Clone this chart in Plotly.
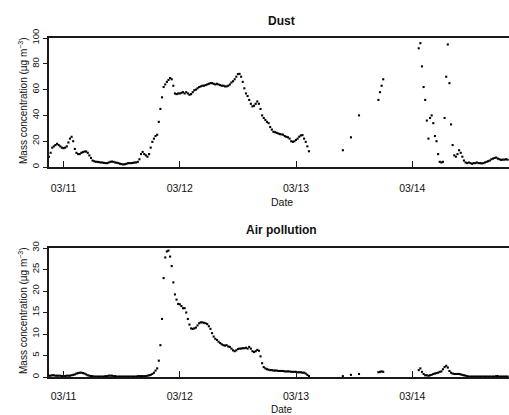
import pandas as pd
import plotly.graph_objects as go

N = None
START = "2014-03-10 21:00"
STEP = "20min"

# Dust mass concentration (ug m-3), one value every 20 minutes from 03/10 21:00
dust = [
    8, 11, 15, 16, 17, 18, 17, 16, 15, 14.6, 15, 16,
    19, 22, 23.4, 20, 14, 11, 10, 10, 11, 11.5, 12, 12,
    11, 9, 7, 5, 4.5, 4, 4, 3.8, 3.5, 3.5, 3.2, 3,
    3, 3.5, 4, 4.2, 4, 3.5, 3.3, 3, 2.5, 2.2, 2, 2.2,
    2.5, 3, 3, 3, 3.2, 3.5, 3.5, 4, 6, 10, 11.7, 10,
    9, 8, 10, 15, 19.5, 22, 24, 25, 35, 45, 54, 62,
    64, 66, 67.5, 69, 68, 63, 57, 56.5, 57, 57, 57.5, 58,
    57, 58, 57, 56, 56.5, 58, 59.5, 60, 61, 62, 62.5, 63,
    63, 63.5, 64, 64.5, 65, 65, 64.5, 64, 64.5, 64, 63.5, 63,
    63, 62.5, 62.5, 63, 64, 65.5, 66.5, 68, 70, 72, 72.2, 70,
    66, 61, 57, 55, 52, 49, 47, 47.5, 49, 50.8, 49, 45,
    40, 38, 36.5, 35, 34, 31, 29, 27.3, 27, 26.5, 26, 25.5,
    25.3, 25, 24, 23.4, 23, 22, 20, 19.5, 20, 21, 22, 23.5,
    24.5, 24.7, 22, 19.5, 16, 12.2, N, N, N, N, N, N,
    N, N, N, N, N, N, N, N, N, N, N, N,
    N, N, 13, N, N, N, N, 23, N, N, N, N,
    40, N, N, N, N, N, N, N, N, N, N, N,
    52, 58, 63, 68, N, N, N, N, N, N, N, N,
    N, N, N, N, N, N, N, N, N, N, N, N,
    N, 92, 96, 78, 62, 52, 36, 22, 38, 40, 34, 24,
    20, 10, 4, 3.5, 4, 38, 70, 95, 65, 33, 17, 9,
    8, 10, 13, 11, 8, 5, 3.5, 3, 3.5, 3, 2.5, 3,
    3, 3.5, 3, 3, 2.8, 3, 3.5, 4, 4.5, 5, 6, 6.5,
    7, 7.3, 6.5, 6, 5.5, 5.7, 5.7, 6, 5.7,
]

# Air pollution mass concentration (ug m-3), same time steps
air = [
    0.3, 0.3, 0.4, 0.4, 0.3, 0.3, 0.3, 0.3, 0.2, 0.2, 0.2, 0.3,
    0.3, 0.3, 0.4, 0.5, 0.6, 0.8, 0.9, 1.0, 1.0, 0.9, 0.8, 0.6,
    0.4, 0.3, 0.2, 0.2, 0.1, 0.1, 0.1, 0.1, 0.1, 0.1, 0.1, 0.2,
    0.2, 0.3, 0.3, 0.3, 0.2, 0.2, 0.1, 0.1, 0.1, 0.1, 0.1, 0.1,
    0.1, 0.1, 0.1, 0.1, 0.1, 0.1, 0.1, 0.2, 0.2, 0.2, 0.2, 0.2,
    0.2, 0.3, 0.4, 0.5, 0.7, 1.0, 1.5, 2.0, 3.8, 7.4, 13.5, 23,
    27.8, 29.2, 29.4, 28, 25.8, 22, 19.2, 18, 17, 16.9, 16.5, 16,
    16, 15, 13.5, 12.2, 11.3, 11.2, 11.3, 11.5, 12, 12.5, 12.7, 12.7,
    12.6, 12.5, 12.3, 11.8, 11.2, 10.2, 9.4, 8.9, 8.6, 8.2, 7.9, 7.6,
    7.4, 7.3, 7.4, 7.1, 7.0, 6.6, 6.2, 6.0, 6.2, 6.5, 6.6, 6.6,
    6.7, 6.7, 6.8, 6.6, 7.0, 6.6, 6.0, 5.8, 6.0, 6.3, 6.1, 4.8,
    3.2, 2.3, 2.0, 1.8, 1.7, 1.6, 1.6, 1.5, 1.5, 1.5, 1.4, 1.4,
    1.4, 1.4, 1.3, 1.3, 1.3, 1.3, 1.2, 1.2, 1.2, 1.2, 1.1, 1.1,
    1.1, 1.0, 1.0, 0.8, 0.5, 0.2, N, N, N, N, N, N,
    N, N, N, N, N, N, N, N, N, N, N, N,
    N, N, 0.2, N, N, N, N, 0.5, N, N, N, N,
    0.7, N, N, N, N, N, N, N, N, N, N, N,
    1.1, 1.2, 1.3, 1.2, N, N, N, N, N, N, N, N,
    N, N, N, N, N, N, N, N, N, N, N, N,
    N, 1.6, 2.0, 1.2, 0.7, 0.4, 0.4, 0.3, 0.4, 0.5, 0.7, 0.8,
    0.9, 1.0, 1.2, 1.3, 1.8, 2.3, 2.6, 2.2, 1.4, 1.0, 0.8, 0.7,
    0.7, 0.7, 0.7, 0.6, 0.5, 0.4, 0.3, 0.2, 0.1, 0.1, 0.1, 0.1,
    0.1, 0.1, 0.1, 0.1, 0.1, 0.1, 0.1, 0.1, 0.1, 0.1, 0.1, 0.1,
    0.1, 0.2, 0.2, 0.1, 0.1, 0.1, 0.1, 0.1, 0.1,
]

tick_dates = ["2014-03-11", "2014-03-12", "2014-03-13", "2014-03-14"]
tick_labels = ["03/11", "03/12", "03/13", "03/14"]
dust_ticks = [0, 20, 40, 60, 80, 100]
air_ticks = [0, 5, 10, 15, 20, 25, 30]
x_range = ["2014-03-10 21:00", "2014-03-14 19:58"]

times = pd.date_range(START, periods=len(dust), freq=STEP)

W, H = 509, 415
FONT = "Liberation Sans, Arial, sans-serif"


def py(p):
    return 1 - p / H


def px(p):
    return p / W


fig = go.Figure()
marker = dict(symbol="square", size=2.1, color="black", line=dict(width=0))
fig.add_trace(go.Scatter(x=times, y=dust, mode="markers", marker=marker,
                         xaxis="x", yaxis="y", showlegend=False))
fig.add_trace(go.Scatter(x=times, y=air, mode="markers", marker=marker,
                         xaxis="x2", yaxis="y2", showlegend=False))

xcommon = dict(
    type="date", range=x_range, domain=[px(49), 1],
    showline=True, linecolor="#1a1a1a", linewidth=1.5, mirror=True,
    ticks="inside", ticklen=6, tickwidth=1.2, tickcolor="#1a1a1a",
    tickmode="array", tickvals=tick_dates, ticktext=tick_labels,
    tickfont=dict(family=FONT, size=10.5, color="#111"),
    showgrid=False, zeroline=False, automargin=False,
)
ycommon = dict(
    showline=True, linecolor="#1a1a1a", linewidth=1.5, mirror=False,
    ticks="outside", ticklen=4, tickwidth=1.2, tickcolor="#1a1a1a",
    tickangle=-90, tickmode="array",
    tickfont=dict(family=FONT, size=9.5, color="#111"),
    showgrid=False, zeroline=False, automargin=False,
)

fig.update_layout(
    width=W, height=H,
    margin=dict(l=0, r=0, t=0, b=0),
    paper_bgcolor="white", plot_bgcolor="white",
    xaxis=dict(xcommon, anchor="y", ticklabelstandoff=11),
    yaxis=dict(ycommon, range=[0, 100], tickvals=dust_ticks,
               domain=[py(167), py(38)], anchor="x"),
    xaxis2=dict(xcommon, anchor="y2", ticklabelstandoff=9),
    yaxis2=dict(ycommon, range=[0, 30], tickvals=air_ticks,
                domain=[py(377), py(248)], anchor="x2"),
)

ytitle = "Mass concentration (\u00b5g m<sup>\u22123</sup>)"
ann = [
    dict(text="<b>Dust</b>", x=px(281.5), y=py(21), size=12, angle=0),
    dict(text="<b>Air pollution</b>", x=px(281.5), y=py(230), size=12, angle=0),
    dict(text="Date", x=px(281.5), y=py(202), size=10.5, angle=0),
    dict(text="Date", x=px(281.5), y=py(409), size=10, angle=0),
    dict(text=ytitle, x=px(23), y=py(101), size=10, angle=-90),
    dict(text=ytitle, x=px(23), y=py(311), size=10, angle=-90),
]
for a in ann:
    fig.add_annotation(
        text=a["text"], x=a["x"], y=a["y"], xref="paper", yref="paper",
        xanchor="center", yanchor="middle", showarrow=False,
        textangle=a["angle"],
        font=dict(family=FONT, size=a["size"], color="#111"),
    )

fig.write_html("out.html")
